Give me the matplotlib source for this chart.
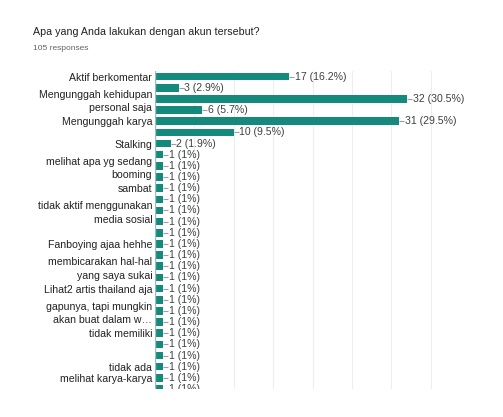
import matplotlib

matplotlib.use("Agg")

import matplotlib.pyplot as plt
import numpy as np

plt.rcParams["font.family"] = ["Liberation Sans", "DejaVu Sans"]

TITLE = "Apa yang Anda lakukan dengan akun tersebut?"
TOTAL_RESPONSES = 105

# only the labels Google Forms actually printed; blank rows had their label hidden
categories = [
    "Aktif berkomentar",
    "",
    "Mengunggah kehidupan\npersonal saja",
    "",
    "Mengunggah karya",
    "",
    "Stalking",
    "",
    "melihat apa yg sedang\nbooming",
    "",
    "sambat",
    "",
    "tidak aktif menggunakan\nmedia sosial",
    "",
    "",
    "Fanboying ajaa hehhe",
    "",
    "membicarakan hal-hal\nyang saya sukai",
    "",
    "Lihat2 artis thailand aja",
    "",
    "gapunya, tapi mungkin\nakan buat dalam w\u2026",
    "",
    "tidak memiliki",
    "",
    "",
    "tidak ada",
    "melihat karya-karya",
    "",
]
counts = [17, 3, 32, 6, 31, 10, 2,
          1, 1, 1, 1, 1, 1, 1, 1, 1, 1, 1,
          1, 1, 1, 1, 1, 1, 1, 1, 1, 1, 1]
x_ticks = [0, 5, 10, 15, 20, 25, 30, 35, 40]

BAR_COLOR = "#14897c"
TEXT_COLOR = "#3c4043"


def format_count(value: int) -> str:
    pct = round(value / TOTAL_RESPONSES * 100, 1)
    return f"{value} ({pct:g}%)"


fig = plt.figure(figsize=(5.03, 4.17), dpi=100)
ax = fig.add_axes([155 / 503, 1 - 389 / 417, (470 - 155) / 503, (389 - 71) / 417])

rows = np.arange(len(counts))
ax.barh(rows, counts, height=0.68, color=BAR_COLOR, zorder=3)

for row, value in zip(rows, counts):
    ax.hlines(row, value, value + 0.62, color="#9e9e9e", linewidth=0.8, zorder=3, clip_on=True)
    ax.text(
        value + 0.72,
        row,
        format_count(value),
        va="center",
        ha="left",
        fontsize=7.6,
        color=TEXT_COLOR,
        clip_on=True,
    )

ax.axvline(0, color="#8fc3bc", linewidth=1.0, zorder=4)
ax.set_xlim(0, 40)
ax.set_ylim(27.72, -0.5)
ax.set_xticks(x_ticks)
ax.set_xticklabels([])
ax.set_yticks(rows)
ax.set_yticklabels(categories, fontsize=7.6, color="#222222", linespacing=1.45)
ax.tick_params(axis="both", length=0, pad=2)
ax.grid(True, axis="x", color="#eeeeee", linewidth=0.8, zorder=0)
for spine in ax.spines.values():
    spine.set_visible(False)

fig.text(33 / 503, 1 - 32 / 417, TITLE, fontsize=7.7, color="#202124", va="center", ha="left")
fig.text(33 / 503, 1 - 48 / 417, f"{TOTAL_RESPONSES} responses", fontsize=6, color="#5f6368", va="center", ha="left")

fig.savefig("out.png", dpi=100)
plt.close(fig)
